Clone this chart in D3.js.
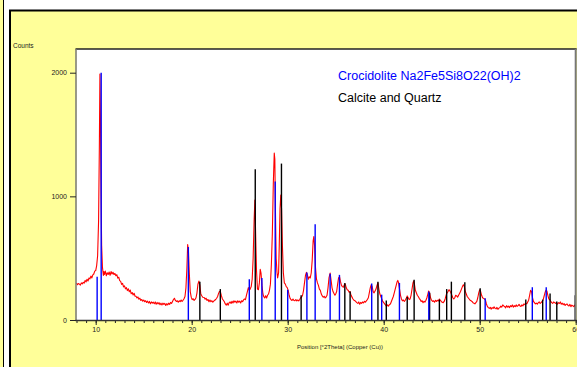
<!DOCTYPE html>
<html>
<head>
<meta charset="utf-8">
<script src="https://cdn.jsdelivr.net/npm/d3@7"></script>
<style>
  body { margin: 0; background: #fff; }
  svg { display: block; font-family: "Liberation Sans", Arial, sans-serif; }
</style>
</head>
<body>
<div id="chart"></div>
<script>
// measured scan, [2theta, counts]
var scan = [
  [8.0,300],[8.1,285],[8.2,295],[8.3,290],[8.4,282],[8.5,300],[8.6,292],[8.7,305],[8.8,298],[8.9,320],
  [9.0,308],[9.1,330],[9.2,315],[9.3,340],[9.4,332],[9.5,355],[9.6,340],[9.7,365],[9.8,372],[9.9,395],
  [10.0,400],[10.1,440],[10.2,520],[10.3,800],[10.38,1400],[10.44,1990],[10.5,1600],[10.56,1000],[10.62,600],[10.7,430],
  [10.8,360],[10.85,392],[10.9,368],[11.0,396],[11.1,358],[11.2,382],[11.3,368],[11.4,388],[11.5,362],[11.6,392],
  [11.7,372],[11.8,386],[11.9,368],[12.0,376],[12.1,358],[12.2,366],[12.3,338],[12.4,346],[12.5,318],[12.6,312],
  [12.7,288],[12.8,296],[12.9,268],[13.0,276],[13.1,252],[13.2,262],[13.3,238],[13.4,252],[13.5,228],[13.6,242],
  [13.7,212],[13.8,222],[13.9,202],[14.0,216],[14.1,192],[14.2,192],[14.3,178],[14.4,186],[14.5,168],[14.6,176],
  [14.7,158],[14.8,166],[14.9,152],[15.0,162],[15.1,148],[15.2,156],[15.3,142],[15.4,152],[15.5,138],[15.6,150],
  [15.7,132],[15.8,146],[15.9,136],[16.0,144],[16.1,132],[16.2,146],[16.3,128],[16.4,142],[16.5,130],[16.6,140],
  [16.7,124],[16.8,136],[16.9,122],[17.0,136],[17.1,126],[17.2,134],[17.3,118],[17.4,132],[17.5,122],[17.6,136],
  [17.7,126],[17.8,142],[17.9,134],[18.0,150],[18.1,166],[18.2,176],[18.3,158],[18.4,150],[18.5,156],[18.6,144],
  [18.7,156],[18.8,148],[18.9,162],[19.0,150],[19.1,160],[19.2,172],[19.3,190],[19.4,260],[19.5,420],[19.58,610],
  [19.66,560],[19.75,380],[19.85,230],[19.95,185],[20.05,165],[20.15,172],[20.25,158],[20.35,166],[20.45,180],[20.55,220],
  [20.65,290],[20.75,315],[20.85,280],[20.95,210],[21.05,196],[21.15,184],[21.3,182],[21.4,168],[21.5,176],[21.6,158],
  [21.7,166],[21.8,148],[21.9,162],[22.0,148],[22.1,156],[22.2,144],[22.3,152],[22.4,160],[22.5,166],[22.6,176],
  [22.7,190],[22.8,215],[22.9,232],[23.0,225],[23.1,195],[23.2,170],[23.3,160],[23.4,148],[23.5,130],[23.6,120],
  [23.7,136],[23.8,120],[23.9,140],[24.0,146],[24.1,134],[24.2,152],[24.3,138],[24.4,156],[24.5,144],[24.6,152],
  [24.7,138],[24.8,156],[24.9,144],[25.0,152],[25.1,138],[25.2,156],[25.3,148],[25.4,162],[25.5,170],[25.6,164],
  [25.7,200],[25.8,230],[25.9,262],[26.0,240],[26.1,252],[26.2,270],[26.3,330],[26.4,500],[26.5,800],[26.58,970],
  [26.66,700],[26.75,400],[26.85,250],[26.95,245],[27.05,300],[27.14,410],[27.22,380],[27.32,280],[27.42,210],[27.5,190],
  [27.6,178],[27.7,196],[27.8,178],[27.9,200],[28.0,210],[28.1,240],[28.2,290],[28.3,450],[28.4,700],[28.5,1100],
  [28.6,1350],[28.66,1300],[28.72,900],[28.8,500],[28.88,390],[28.95,340],[29.0,360],[29.05,380],[29.12,600],[29.2,900],
  [29.28,1010],[29.36,900],[29.45,600],[29.55,380],[29.65,300],[29.75,290],[29.85,270],[29.95,262],[30.05,240],[30.15,200],
  [30.25,175],[30.35,164],[30.45,158],[30.55,170],[30.65,158],[30.75,156],[30.85,166],[30.95,154],[31.05,162],[31.15,154],
  [31.25,166],[31.35,180],[31.45,186],[31.55,200],[31.65,240],[31.75,300],[31.85,360],[31.95,385],[32.05,365],[32.15,330],
  [32.25,350],[32.35,340],[32.45,380],[32.55,480],[32.65,640],[32.72,675],[32.8,600],[32.9,420],[33.0,330],[33.1,300],
  [33.2,280],[33.3,250],[33.4,240],[33.5,210],[33.6,195],[33.7,184],[33.8,192],[33.9,178],[34.0,186],[34.1,200],
  [34.2,260],[34.3,340],[34.42,380],[34.52,320],[34.62,260],[34.72,230],[34.82,215],[34.92,200],[35.0,210],[35.1,230],
  [35.2,290],[35.3,340],[35.4,350],[35.5,310],[35.6,280],[35.7,270],[35.8,265],[35.9,285],[36.0,290],[36.1,260],
  [36.2,245],[36.3,240],[36.4,225],[36.5,230],[36.6,200],[36.7,185],[36.8,170],[36.9,160],[37.0,156],[37.1,148],
  [37.2,140],[37.3,134],[37.4,146],[37.5,128],[37.6,142],[37.7,134],[37.8,146],[37.9,138],[38.0,152],[38.1,144],
  [38.2,156],[38.3,165],[38.4,180],[38.5,220],[38.6,260],[38.7,285],[38.8,270],[38.9,230],[39.0,220],[39.1,235],
  [39.2,250],[39.3,280],[39.4,300],[39.5,250],[39.6,210],[39.7,190],[39.8,170],[39.9,150],[40.0,140],[40.1,130],
  [40.2,120],[40.3,110],[40.4,122],[40.5,112],[40.6,126],[40.7,130],[40.8,150],[40.9,170],[41.0,190],[41.1,220],
  [41.2,250],[41.3,280],[41.4,310],[41.47,320],[41.55,300],[41.65,250],[41.75,200],[41.85,170],[41.95,155],[42.05,162],
  [42.15,150],[42.25,160],[42.35,175],[42.45,195],[42.55,180],[42.65,165],[42.75,170],[42.85,200],[42.95,250],[43.05,300],
  [43.12,315],[43.2,290],[43.3,240],[43.4,220],[43.5,200],[43.6,190],[43.7,175],[43.8,165],[43.9,150],[44.0,156],
  [44.1,140],[44.2,152],[44.3,145],[44.4,160],[44.5,180],[44.6,210],[44.68,235],[44.78,220],[44.88,180],[44.98,160],
  [45.1,150],[45.2,156],[45.3,144],[45.4,160],[45.5,150],[45.6,160],[45.7,154],[45.8,170],[45.9,160],[46.0,150],
  [46.1,144],[46.2,140],[46.3,150],[46.4,170],[46.5,200],[46.6,220],[46.7,230],[46.8,245],[46.9,235],[47.0,220],
  [47.1,200],[47.2,180],[47.3,170],[47.4,180],[47.5,200],[47.6,195],[47.7,185],[47.8,200],[47.9,215],[48.0,230],
  [48.1,250],[48.2,270],[48.3,285],[48.4,270],[48.5,230],[48.6,210],[48.7,190],[48.8,180],[48.9,170],[49.0,160],
  [49.1,155],[49.2,150],[49.3,140],[49.4,136],[49.5,130],[49.6,140],[49.7,150],[49.8,180],[49.9,220],[50.0,245],
  [50.1,230],[50.2,200],[50.3,180],[50.4,175],[50.5,170],[50.6,160],[50.7,130],[50.8,110],[50.9,100],[51.0,94],
  [51.1,102],[51.2,88],[51.3,100],[51.4,94],[51.5,106],[51.6,94],[51.7,90],[51.8,102],[51.9,86],[52.0,96],
  [52.1,100],[52.2,112],[52.3,104],[52.4,122],[52.5,114],[52.6,110],[52.7,98],[52.8,116],[52.9,104],[53.0,112],
  [53.1,100],[53.2,116],[53.3,108],[53.4,122],[53.5,104],[53.6,116],[53.7,108],[53.8,122],[53.9,110],[54.0,116],
  [54.1,126],[54.2,114],[54.3,110],[54.4,122],[54.5,114],[54.6,130],[54.7,124],[54.8,136],[54.9,130],[55.0,145],
  [55.1,160],[55.2,200],[55.3,240],[55.4,230],[55.5,180],[55.6,150],[55.7,140],[55.8,130],[55.9,136],[56.0,128],
  [56.1,140],[56.2,146],[56.3,134],[56.4,140],[56.5,150],[56.6,160],[56.7,190],[56.8,220],[56.9,240],[57.0,235],
  [57.1,200],[57.2,170],[57.3,165],[57.4,150],[57.5,140],[57.6,134],[57.7,146],[57.8,140],[57.9,134],[58.0,142],
  [58.1,128],[58.2,140],[58.3,134],[58.4,146],[58.5,128],[58.6,136],[58.7,124],[58.8,132],[58.9,118],[59.0,126],
  [59.1,130],[59.2,118],[59.3,114],[59.4,126],[59.5,108],[59.6,120],[59.7,114],[59.8,108],[59.9,120],[60.0,115]
];

// reference patterns, [2theta, counts]
var crocidolite = [
  [10.15,350],[10.57,2000],[19.65,590],[26.0,330],[27.31,340],[28.7,1120],[30.0,245],[32.0,385],
  [32.86,775],[34.42,375],[35.39,365],[38.75,295],[39.79,205],[41.64,300],[44.7,230],[50.57,175],
  [55.48,265],[56.93,265]
];
var calciteQuartz = [
  [20.85,310],[22.98,250],[26.62,1220],[29.35,1265],[31.4,200],[35.95,300],[36.5,230],[39.4,310],
  [40.27,157],[42.45,185],[43.17,325],[44.78,220],[45.8,165],[46.56,250],[47.05,310],[48.45,305],
  [50.05,257],[54.8,165],[56.56,165],[57.33,215],[58.03,150],[59.95,200]
];

var xMajor = [10, 20, 30, 40, 50, 60];
var xMinor = d3.range(8, 61, 1);
var yTicks = [0, 1000, 2000];
var legendNames = ["Crocidolite Na2Fe5Si8O22(OH)2", "Calcite and Quartz"];

var svgWidth = 577, svgHeight = 367;
var plot = { left: 76.5, right: 575.7, top: 49, bottom: 320 };

var svg = d3.select("#chart").append("svg")
  .attr("width", svgWidth)
  .attr("height", svgHeight);

// background frames
svg.append("rect").attr("x", 0).attr("y", 0).attr("width", 3).attr("height", svgHeight).attr("fill", "#ffff99");
svg.append("line").attr("x1", 3.5).attr("x2", 3.5).attr("y1", 0).attr("y2", svgHeight)
  .attr("stroke", "#000").attr("stroke-width", 1);
svg.append("rect").attr("x", 11).attr("y", 11).attr("width", svgWidth - 11).attr("height", svgHeight - 11)
  .attr("fill", "#ffff99");
svg.append("path").attr("d", `M10,${svgHeight} V10.5 H${svgWidth}`)
  .attr("fill", "none").attr("stroke", "#000").attr("stroke-width", 2);

var x = d3.scaleLinear().domain([8, 60]).range([plot.left, plot.right]);
var y = d3.scaleLinear().domain([0, 2000]).range([plot.bottom, 72.7]);

// plot area
svg.append("rect")
  .attr("x", plot.left).attr("y", plot.top)
  .attr("width", plot.right - plot.left).attr("height", plot.bottom - plot.top)
  .attr("fill", "#fff");

svg.append("path")
  .datum(scan)
  .attr("fill", "none")
  .attr("stroke", "#ff0000")
  .attr("stroke-width", 1.1)
  .attr("stroke-linejoin", "round")
  .attr("d", d3.line().x(d => x(d[0])).y(d => y(d[1])));

svg.append("g").selectAll("line")
  .data(calciteQuartz)
  .enter().append("line")
  .attr("x1", d => x(d[0])).attr("x2", d => x(d[0]))
  .attr("y1", y(0)).attr("y2", d => y(d[1]))
  .attr("stroke", "#000").attr("stroke-width", 1.4);

svg.append("g").selectAll("line")
  .data(crocidolite)
  .enter().append("line")
  .attr("x1", d => x(d[0])).attr("x2", d => x(d[0]))
  .attr("y1", y(0)).attr("y2", d => y(d[1]))
  .attr("stroke", "#0000ff").attr("stroke-width", 1.4);

// frame lines
svg.append("line").attr("x1", plot.left - 1).attr("x2", plot.right + 1).attr("y1", plot.top).attr("y2", plot.top)
  .attr("stroke", "#222").attr("stroke-width", 1.5);
svg.append("line").attr("x1", plot.left - 0.5).attr("x2", plot.left - 0.5).attr("y1", plot.top).attr("y2", plot.bottom)
  .attr("stroke", "#777").attr("stroke-width", 1.5);
svg.append("line").attr("x1", plot.right).attr("x2", plot.right).attr("y1", plot.top).attr("y2", plot.bottom)
  .attr("stroke", "#777").attr("stroke-width", 2);

// axes
var minorAxis = svg.append("g")
  .attr("transform", `translate(0, ${plot.bottom})`)
  .call(d3.axisBottom(x).tickValues(xMinor).tickSize(3).tickFormat(""));
minorAxis.select(".domain").remove();

var bottomAxis = svg.append("g")
  .attr("transform", `translate(0, ${plot.bottom})`)
  .call(d3.axisBottom(x).tickValues(xMajor).tickSize(5).tickSizeOuter(0).tickPadding(2));
bottomAxis.select(".domain").attr("stroke", "#333").attr("stroke-width", 1.5)
  .attr("d", `M${plot.left - 1},0.5H${plot.right + 1}`);

var leftAxis = svg.append("g")
  .attr("transform", `translate(${plot.left - 0.5}, 0)`)
  .call(d3.axisLeft(y).tickValues(yTicks).tickSize(6).tickPadding(3).tickFormat(d3.format("d")));
leftAxis.select(".domain").remove();

svg.selectAll(".tick line").attr("stroke", "#222");
svg.selectAll(".tick text").attr("font-size", "7px").attr("fill", "#222")
  .attr("font-family", "'Liberation Sans', Arial, sans-serif");

// labels
svg.append("text")
  .attr("x", 13).attr("y", 48)
  .attr("font-size", "6.5px").attr("fill", "#222")
  .text("Counts");

svg.append("text")
  .attr("x", 340).attr("y", 349)
  .attr("text-anchor", "middle")
  .attr("font-size", "6px").attr("fill", "#222")
  .text("Position [°2Theta] (Copper (Cu))");

// legend
svg.append("text")
  .attr("x", 338).attr("y", 80)
  .attr("font-size", "12.5px").attr("fill", "#0000ff")
  .text(legendNames[0]);
svg.append("text")
  .attr("x", 338).attr("y", 102)
  .attr("font-size", "12.5px").attr("fill", "#000")
  .text(legendNames[1]);
</script>
</body>
</html>
